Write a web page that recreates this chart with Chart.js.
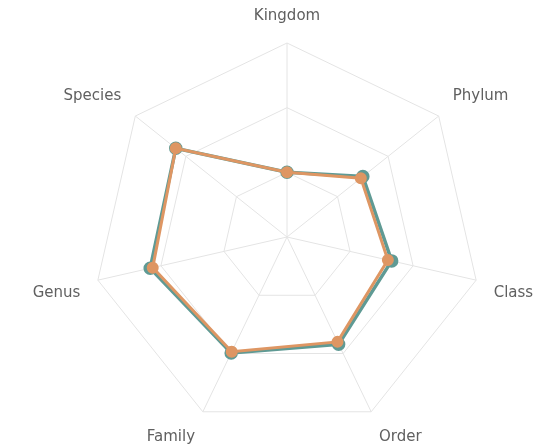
<!DOCTYPE html>
<html>
<head>
<meta charset="utf-8">
<script src="https://cdn.jsdelivr.net/npm/chart.js@4"></script>
<style>
  html, body { margin: 0; padding: 0; background: #fff; overflow: hidden; }
  #frame { width: 549px; height: 444px; position: relative; overflow: hidden; }
  #wrap { width: 566px; height: 460px; position: absolute; left: -10px; top: -4px; }
</style>
</head>
<body>
<div id="frame"><div id="wrap"><canvas id="radarChart"></canvas></div></div>
<script>
const labels = ["Kingdom", "Phylum", "Class", "Order", "Family", "Genus", "Species"];
const tealValues = [1.0, 1.5, 1.66, 1.84, 1.99, 2.17, 2.2];
const orangeValues = [1.0, 1.46, 1.6, 1.8, 1.97, 2.13, 2.2];
const tickValues = [0, 1, 2, 3];

const ctx = document.getElementById("radarChart").getContext("2d");
const chart = new Chart(ctx, {
  type: "radar",
  data: {
    labels: labels,
    datasets: [{
      label: "A",
      data: tealValues,
      borderColor: "#5f9a94",
      backgroundColor: "rgba(0,0,0,0)",
      pointBackgroundColor: "#5f9a94",
      pointBorderColor: "#5f9a94",
      borderWidth: 3.5,
      pointRadius: 5,
      order: 2
    }, {
      label: "B",
      data: orangeValues,
      borderColor: "#de9663",
      backgroundColor: "rgba(0,0,0,0)",
      pointBackgroundColor: "#de9663",
      pointBorderColor: "#de9663",
      borderWidth: 3,
      pointRadius: 4.5,
      order: 1
    }]
  },
  options: {
    responsive: true,
    maintainAspectRatio: false,
    animation: false,
    layout: { padding: { top: 0, bottom: 0, left: 20, right: 0 } },
    plugins: {
      legend: { display: false },
      tooltip: { enabled: false }
    },
    scales: {
      r: {
        min: tickValues[0],
        max: tickValues[tickValues.length - 1],
        ticks: { display: false, stepSize: 1 },
        grid: { color: "#e4e4e4", lineWidth: 1 },
        angleLines: { color: "#e4e4e4", lineWidth: 1 },
        pointLabels: {
          color: "#606060",
          font: { family: "DejaVu Sans", size: 15 },
          padding: 18
        }
      }
    }
  }
});
</script>
</body>
</html>
